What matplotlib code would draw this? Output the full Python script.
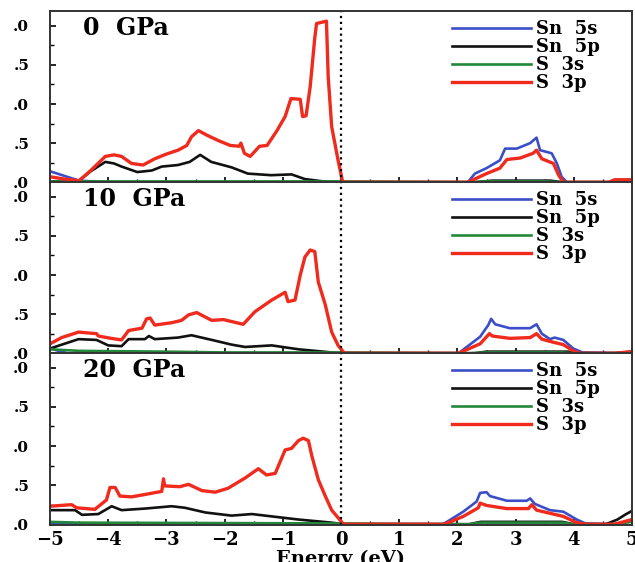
import matplotlib
matplotlib.use("Agg")
import matplotlib.pyplot as plt

# ---- data (energy in eV, PDOS) ----
# 0 GPa
e0_sn5s = [-5.0, -4.75, -4.5, -4.0, 0.0, 2.18, 2.30, 2.50, 2.73, 2.82, 3.02, 3.25, 3.36, 3.42, 3.62, 3.71, 3.79, 3.88, 5.0]
d0_sn5s = [0.14, 0.08, 0.02, 0.0, 0.0, 0.0, 0.11, 0.18, 0.28, 0.43, 0.43, 0.50, 0.57, 0.41, 0.37, 0.24, 0.07, 0.0, 0.0]
e0_sn5p = [-5.0, -4.5, -4.3, -4.05, -3.9, -3.77, -3.5, -3.25, -3.08, -2.8, -2.6, -2.42, -2.23, -1.88, -1.6, -1.2, -0.85, -0.62, -0.3, 0.0,
           2.3, 2.6, 3.0, 3.6, 3.8, 4.6, 4.7, 5.0]
d0_sn5p = [0.01, 0.02, 0.14, 0.26, 0.24, 0.20, 0.13, 0.15, 0.20, 0.22, 0.26, 0.35, 0.26, 0.19, 0.11, 0.09, 0.10, 0.04, 0.01, 0.0,
           0.0, 0.02, 0.02, 0.02, 0.0, 0.0, 0.03, 0.03]
e0_s3s = [-5.0, -4.5, 0.0, 2.2, 2.5, 3.5, 3.8, 5.0]
d0_s3s = [0.01, 0.01, 0.01, 0.0, 0.01, 0.01, 0.0, 0.0]
e0_s3p = [-5.0, -4.75, -4.5, -4.3, -4.05, -3.9, -3.77, -3.6, -3.4, -3.2, -3.0, -2.8, -2.65, -2.57, -2.45, -2.3, -2.1, -1.9, -1.75,
          -1.72, -1.66, -1.56, -1.4, -1.27, -1.1, -0.96, -0.86, -0.70, -0.66, -0.60, -0.53, -0.45, -0.42, -0.25, -0.22, -0.16,
          -0.05, 0.03, 2.18, 2.5, 2.73, 2.85, 3.08, 3.30, 3.36, 3.45, 3.65, 3.74, 3.82, 4.6, 4.7, 5.0]
d0_s3p = [0.07, 0.04, 0.02, 0.15, 0.33, 0.35, 0.33, 0.24, 0.22, 0.30, 0.36, 0.41, 0.47, 0.58, 0.66, 0.60, 0.53, 0.47, 0.46,
          0.50, 0.37, 0.33, 0.46, 0.47, 0.66, 0.84, 1.07, 1.06, 0.84, 0.85, 1.22, 1.85, 2.03, 2.06, 1.35, 0.71,
          0.28, 0.0, 0.0, 0.11, 0.18, 0.29, 0.31, 0.37, 0.41, 0.30, 0.24, 0.09, 0.0, 0.0, 0.03, 0.03]

# 10 GPa
e10_sn5s = [-5.0, -4.7, 0.0, 2.02, 2.16, 2.39, 2.53, 2.58, 2.65, 2.90, 3.25, 3.36, 3.45, 3.59, 3.67, 3.82, 3.99, 4.15, 5.0]
d10_sn5s = [0.06, 0.0, 0.0, 0.0, 0.08, 0.21, 0.36, 0.44, 0.37, 0.32, 0.32, 0.37, 0.25, 0.18, 0.20, 0.17, 0.06, 0.01, 0.0]
e10_sn5p = [-5.0, -4.51, -4.2, -4.0, -3.77, -3.65, -3.37, -3.30, -3.2, -2.8, -2.57, -2.22, -1.88, -1.65, -1.19, -0.73, -0.16, 0.0,
            2.3, 2.5, 3.9, 4.1, 4.7, 5.0]
d10_sn5p = [0.06, 0.18, 0.17, 0.10, 0.09, 0.18, 0.18, 0.22, 0.18, 0.20, 0.23, 0.17, 0.11, 0.08, 0.10, 0.05, 0.01, 0.0,
            0.0, 0.02, 0.02, 0.0, 0.0, 0.02]
e10_s3s = [-5.0, -4.5, -3.0, -2.0, 0.0, 2.2, 2.5, 3.8, 4.0, 5.0]
d10_s3s = [0.05, 0.03, 0.02, 0.01, 0.01, 0.0, 0.01, 0.01, 0.0, 0.0]
e10_s3p = [-5.0, -4.8, -4.51, -4.2, -4.17, -3.95, -3.77, -3.65, -3.42, -3.34, -3.28, -3.2, -2.91, -2.74, -2.62, -2.48, -2.22,
           -2.02, -1.68, -1.48, -1.19, -0.96, -0.91, -0.79, -0.70, -0.62, -0.53, -0.45, -0.39, -0.27, -0.16, -0.05, 0.06,
           2.02, 2.39, 2.55, 2.60, 2.90, 3.25, 3.36, 3.45, 3.65, 3.82, 3.99, 4.10, 4.7, 5.0]
d10_s3p = [0.12, 0.20, 0.27, 0.25, 0.22, 0.19, 0.17, 0.29, 0.32, 0.44, 0.45, 0.36, 0.39, 0.42, 0.49, 0.52, 0.42,
           0.43, 0.37, 0.53, 0.68, 0.78, 0.66, 0.68, 1.00, 1.23, 1.32, 1.30, 0.91, 0.62, 0.27, 0.10, 0.0,
           0.0, 0.12, 0.25, 0.22, 0.19, 0.20, 0.25, 0.18, 0.14, 0.11, 0.03, 0.0, 0.0, 0.02]

# 20 GPa
e20_sn5s = [-5.0, 0.0, 1.75, 1.82, 2.10, 2.33, 2.39, 2.50, 2.56, 2.85, 3.19, 3.25, 3.33, 3.59, 3.82, 4.05, 4.2, 4.7, 5.0]
d20_sn5s = [0.0, 0.0, 0.0, 0.03, 0.16, 0.29, 0.40, 0.41, 0.36, 0.30, 0.30, 0.33, 0.26, 0.18, 0.16, 0.06, 0.01, 0.0, 0.05]
e20_sn5p = [-5.0, -4.57, -4.45, -4.17, -3.94, -3.77, -3.37, -2.91, -2.68, -2.33, -1.88, -1.53, -1.19, -0.73, -0.16, 0.05,
            2.2, 2.4, 3.8, 4.0, 4.55, 4.75, 4.9, 5.0]
d20_sn5p = [0.18, 0.18, 0.12, 0.13, 0.23, 0.18, 0.20, 0.23, 0.21, 0.15, 0.11, 0.13, 0.10, 0.06, 0.02, 0.0,
            0.0, 0.03, 0.03, 0.0, 0.0, 0.06, 0.13, 0.17]
e20_s3s = [-5.0, -4.5, 0.0, 2.2, 2.4, 3.8, 4.0, 4.7, 5.0]
d20_s3s = [0.03, 0.02, 0.01, 0.0, 0.02, 0.02, 0.0, 0.0, 0.03]
e20_s3p = [-5.0, -4.63, -4.54, -4.23, -4.03, -3.97, -3.88, -3.80, -3.6, -3.37, -3.08, -3.05, -3.03, -2.77, -2.62, -2.39,
           -2.16, -1.94, -1.65, -1.42, -1.28, -1.13, -0.96, -0.85, -0.73, -0.65, -0.56, -0.50, -0.39, -0.27, -0.16, 0.01,
           0.04, 1.78, 2.10, 2.36, 2.39, 2.50, 2.85, 3.22, 3.28, 3.36, 3.82, 4.05, 4.2, 4.7, 5.0]
d20_s3p = [0.23, 0.25, 0.21, 0.19, 0.31, 0.47, 0.47, 0.36, 0.35, 0.38, 0.42, 0.58, 0.49, 0.48, 0.51, 0.43,
           0.41, 0.46, 0.59, 0.71, 0.63, 0.65, 0.95, 0.97, 1.07, 1.10, 1.07, 0.87, 0.57, 0.36, 0.18, 0.03,
           0.0, 0.0, 0.10, 0.21, 0.27, 0.24, 0.20, 0.20, 0.25, 0.18, 0.10, 0.02, 0.0, 0.0, 0.06]

pressures = ['0  GPa', '10  GPa', '20  GPa']
orbitals = ['Sn  5s', 'Sn  5p', 'S  3s', 'S  3p']
colors = ['#3b4ec8', '#111111', '#23883a', '#f02a1c']
yticks = [0.0, 0.5, 1.0, 1.5, 2.0]
ytick_labels = ['.0', '.5', '.0', '.5', '.0']   # left digits are cropped in the original
xticks = [-5, -4, -3, -2, -1, 0, 1, 2, 3, 4, 5]

panels = [
    [(e0_sn5s, d0_sn5s), (e0_sn5p, d0_sn5p), (e0_s3s, d0_s3s), (e0_s3p, d0_s3p)],
    [(e10_sn5s, d10_sn5s), (e10_sn5p, d10_sn5p), (e10_s3s, d10_s3s), (e10_s3p, d10_s3p)],
    [(e20_sn5s, d20_sn5s), (e20_sn5p, d20_sn5p), (e20_s3s, d20_s3s), (e20_s3p, d20_s3p)],
]

plt.rcParams['font.family'] = 'DejaVu Serif'
plt.rcParams['font.weight'] = 'bold'

fig = plt.figure(figsize=(6.35, 5.62), dpi=100)
W, H = 635.0, 562.0
left, right = 50 / W, 632 / W
tops = [11, 182, 353]
ph = 172

for i, series in enumerate(panels):
    ax = fig.add_axes([left, 1 - (tops[i] + ph) / H, right - left, ph / H])
    for (e, d), c, name in zip(series, colors, orbitals):
        lw = 2.4 if name == 'S  3p' else 1.9
        ax.plot(e, d, color=c, lw=lw, label=name)
    ax.axvline(0, color='black', ls=':', lw=1.6)
    ax.set_xlim(-5, 5)
    ax.set_ylim(-0.01, 2.19)
    ax.set_yticks(yticks)
    ax.set_yticklabels(ytick_labels)
    ax.set_yticks([0.25, 0.75, 1.25, 1.75], minor=True)
    ax.set_xticks(xticks)
    ax.set_xticks([-4.5, -3.5, -2.5, -1.5, -0.5, 0.5, 1.5, 2.5, 3.5, 4.5], minor=True)
    ax.tick_params(which='both', direction='in', top=False, right=False, labelsize=11, pad=15)
    ax.tick_params(axis='x', labelsize=13, pad=4)
    ax.tick_params(which='major', length=4, width=1.2)
    ax.tick_params(which='minor', length=3, width=1.0)
    for sp in ax.spines.values():
        sp.set_linewidth(1.4)
        sp.set_color('#333333')
    if i < 2:
        ax.tick_params(axis='x', labelbottom=False)
    else:
        ax.set_xlabel('Energy (eV)', fontsize=14, fontweight='bold', labelpad=1)
    ax.text(0.056, 0.90, pressures[i], transform=ax.transAxes, fontsize=17, fontweight='bold', va='center')
    ax.legend(loc='upper left', bbox_to_anchor=(0.69, 0.945), frameon=False, fontsize=13,
              handlelength=4.4, handletextpad=0.3, labelspacing=0.0, borderpad=0, borderaxespad=0)

fig.savefig('out.png', dpi=100)
